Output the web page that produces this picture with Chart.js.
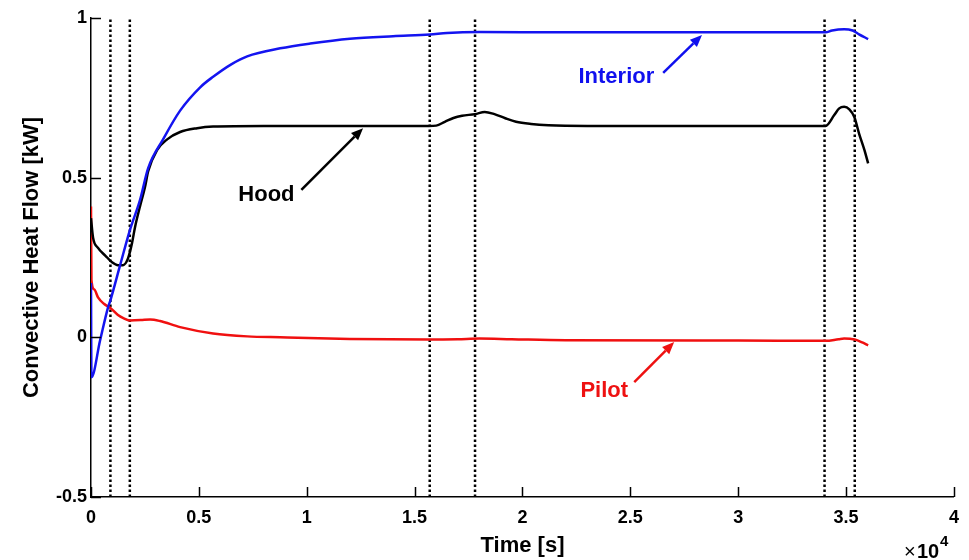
<!DOCTYPE html>
<html>
<head>
<meta charset="utf-8">
<script src="https://cdn.jsdelivr.net/npm/chart.js@4"></script>
<style>
  body { margin: 0; background: #fff; }
</style>
</head>
<body>
<canvas id="heatChart" width="969" height="560"></canvas>
<script>
// time in seconds, flow in kW
const interiorTime = [0, 20, 420, 790, 900, 1350, 1800, 2270, 2650, 3340, 4130, 5060, 5660, 6500, 7240, 8770, 10160, 12000, 14000, 15700, 16500, 18000, 22000, 30000, 34050, 34350, 34910, 35300, 35600, 36020];
const interiorFlow = [0.17, -0.125, -0.01, 0.094, 0.116, 0.226, 0.335, 0.43, 0.53, 0.62, 0.71, 0.783, 0.816, 0.855, 0.88, 0.905, 0.92, 0.935, 0.943, 0.948, 0.953, 0.956, 0.955, 0.955, 0.955, 0.961, 0.965, 0.961, 0.949, 0.934];

const hoodTime = [0, 93, 325, 650, 975, 1250, 1485, 1720, 1900, 2040, 2270, 2500, 2650, 3060, 3530, 4130, 4920, 5660, 8000, 15650, 16000, 16400, 16800, 17200, 17800, 18250, 18700, 19200, 19700, 20400, 21200, 23000, 34050, 34450, 34680, 34910, 35150, 35380, 35600, 35850, 36020];
const hoodFlow = [0.373, 0.313, 0.28, 0.257, 0.235, 0.226, 0.226, 0.248, 0.295, 0.345, 0.41, 0.47, 0.52, 0.586, 0.62, 0.643, 0.655, 0.66, 0.662, 0.662, 0.663, 0.675, 0.687, 0.694, 0.699, 0.706, 0.699, 0.686, 0.675, 0.668, 0.664, 0.662, 0.662, 0.696, 0.717, 0.722, 0.714, 0.69, 0.638, 0.586, 0.545];

const pilotTime = [0, 20, 150, 325, 600, 900, 1250, 1500, 1800, 2300, 2740, 3200, 4130, 5660, 7240, 8770, 12000, 15700, 17000, 18000, 19500, 22000, 30000, 34050, 34650, 34910, 35400, 35750, 36020];
const pilotFlow = [0.41, 0.18, 0.15, 0.125, 0.105, 0.092, 0.07, 0.06, 0.053, 0.054, 0.056, 0.051, 0.032, 0.012, 0.003, 0.0, -0.005, -0.007, -0.006, -0.004, -0.006, -0.009, -0.01, -0.011, -0.006, -0.004, -0.007, -0.016, -0.025];

// dotted vertical markers
const switchTimes = [900, 1800, 15700, 17800, 34000, 35400];

// labels with arrows, in data coordinates
const notes = [
  { text: 'Interior', color: '#1010ee', at: [24350, 0.815], from: [26520, 0.828], to: [28320, 0.947] },
  { text: 'Hood', color: '#000', at: [8130, 0.446], from: [9750, 0.462], to: [12610, 0.655] },
  { text: 'Pilot', color: '#ee1111', at: [23790, -0.168], from: [25180, -0.14], to: [27030, -0.015] }
];

const FONT = '"Liberation Sans", Arial, sans-serif';
Chart.defaults.font.family = FONT;
Chart.defaults.font.weight = 'bold';
Chart.defaults.color = '#000';

const toPoints = (t, v) => t.map((s, i) => ({ x: s, y: v[i] }));

const curve = (label, t, v, color) => ({
  label: label,
  data: toPoints(t, v),
  borderColor: color,
  borderWidth: 2.5,
  pointRadius: 0,
  cubicInterpolationMode: 'monotone',
  order: 1
});

const datasets = [
  curve('Interior', interiorTime, interiorFlow, '#1414f0'),
  curve('Hood', hoodTime, hoodFlow, '#000'),
  curve('Pilot', pilotTime, pilotFlow, '#f01010')
];

switchTimes.forEach(t => {
  datasets.push({
    data: [{ x: t, y: -0.5 }, { x: t, y: 1 }],
    borderColor: '#000',
    borderWidth: 2.5,
    borderDash: [2.5, 2.5],
    pointRadius: 0,
    order: 2
  });
});

const overlay = {
  id: 'overlay',
  afterDraw(chart) {
    const { ctx, scales: { x, y } } = chart;
    ctx.save();
    // inward tick marks
    ctx.strokeStyle = '#000';
    ctx.lineWidth = 1.5;
    ctx.beginPath();
    x.ticks.forEach(tk => {
      const px = Math.round(x.getPixelForValue(tk.value)) + 0.5;
      ctx.moveTo(px, y.bottom);
      ctx.lineTo(px, y.bottom - 10);
    });
    y.ticks.forEach(tk => {
      const py = Math.round(y.getPixelForValue(tk.value)) + 0.5;
      ctx.moveTo(x.left, py);
      ctx.lineTo(x.left + 10, py);
    });
    ctx.stroke();

    // annotations
    notes.forEach(n => {
      ctx.fillStyle = n.color;
      ctx.strokeStyle = n.color;
      ctx.font = 'bold 22px ' + FONT;
      ctx.textAlign = 'center';
      ctx.textBaseline = 'middle';
      ctx.fillText(n.text, x.getPixelForValue(n.at[0]), y.getPixelForValue(n.at[1]));

      const x0 = x.getPixelForValue(n.from[0]), y0 = y.getPixelForValue(n.from[1]);
      const x1 = x.getPixelForValue(n.to[0]), y1 = y.getPixelForValue(n.to[1]);
      const ang = Math.atan2(y1 - y0, x1 - x0);
      const len = 12, half = 5;
      const bx = x1 - len * Math.cos(ang), by = y1 - len * Math.sin(ang);
      ctx.lineWidth = 2.5;
      ctx.beginPath();
      ctx.moveTo(x0, y0);
      ctx.lineTo(bx, by);
      ctx.stroke();
      ctx.beginPath();
      ctx.moveTo(x1, y1);
      ctx.lineTo(bx + half * Math.sin(ang), by - half * Math.cos(ang));
      ctx.lineTo(bx - half * Math.sin(ang), by + half * Math.cos(ang));
      ctx.closePath();
      ctx.fill();
    });

    // x10^4 exponent
    ctx.fillStyle = '#000';
    ctx.textAlign = 'left';
    ctx.textBaseline = 'alphabetic';
    ctx.font = '20px ' + FONT;
    ctx.fillText('\u00d7', 904, 558);
    ctx.font = 'bold 20px ' + FONT;
    ctx.fillText('10', 917, 558);
    ctx.font = 'bold 15px ' + FONT;
    ctx.fillText('4', 940, 546);
    ctx.restore();
  }
};

new Chart(document.getElementById('heatChart'), {
  type: 'line',
  data: { datasets: datasets },
  options: {
    responsive: false,
    animation: false,
    layout: { padding: { top: 18, right: 12, left: 0, bottom: 0 } },
    plugins: { legend: { display: false }, tooltip: { enabled: false } },
    scales: {
      x: {
        type: 'linear',
        min: 0,
        max: 40000,
        ticks: {
          stepSize: 5000,
          autoSkip: false,
          maxRotation: 0,
          padding: 10,
          font: { size: 18, weight: 'bold' },
          callback: v => String(v / 10000)
        },
        grid: { display: false, drawTicks: false },
        border: { color: '#000', width: 1.5 },
        title: {
          display: true,
          text: 'Time [s]',
          font: { size: 22, weight: 'bold' },
          padding: { top: 0, bottom: 1 }
        },
        afterFit: s => { s.height = 63; }
      },
      y: {
        min: -0.5,
        max: 1,
        ticks: {
          stepSize: 0.5,
          padding: 4,
          font: { size: 18, weight: 'bold' },
          callback: v => String(v)
        },
        grid: { display: false, drawTicks: false },
        border: { color: '#000', width: 1.5 },
        title: {
          display: true,
          text: 'Convective Heat Flow [kW]',
          font: { size: 22, weight: 'bold' },
          padding: { top: 19, bottom: 0 }
        },
        afterFit: s => { s.width = 91; }
      }
    }
  },
  plugins: [overlay]
});
</script>
</body>
</html>
